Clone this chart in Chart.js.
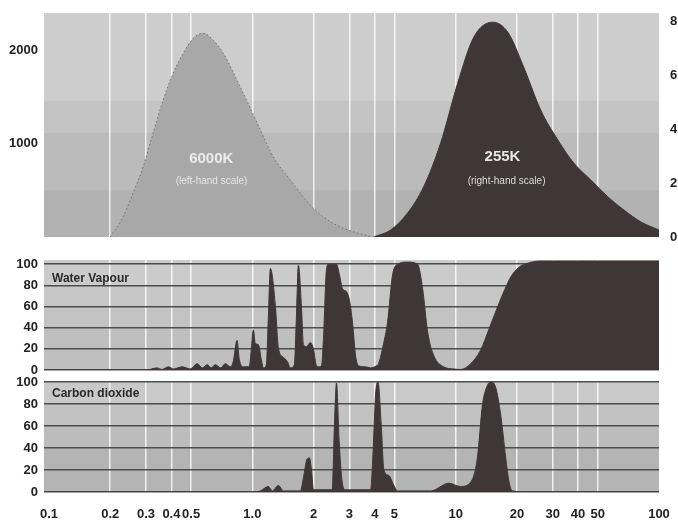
<!DOCTYPE html>
<html>
<head>
<meta charset="utf-8">
<script src="https://cdn.jsdelivr.net/npm/chart.js@4.4.1/dist/chart.umd.min.js"></script>
<style>
  html, body { margin: 0; padding: 0; background: #fff; }
  #wrap { position: relative; width: 678px; height: 522px; }
  canvas { position: absolute; left: 0; }
  #chartEmissao { top: 0; }
  #chartAgua { top: 250px; }
  #chartCO2 { top: 375px; }
</style>
</head>
<body>
<div id="wrap">
  <canvas id="chartEmissao" width="678" height="245"></canvas>
  <canvas id="chartAgua" width="678" height="125"></canvas>
  <canvas id="chartCO2" width="678" height="147"></canvas>
</div>
<script>
// eixo x (comprimento de onda, escala log)
const xTickValues = [0.1, 0.2, 0.3, 0.4, 0.5, 1, 2, 3, 4, 5, 10, 20, 30, 40, 50, 100];
const xTickLabels = ['0.1', '0.2', '0.3', '0.4', '0.5', '1.0', '2', '3', '4', '5', '10', '20', '30', '40', '50', '100'];
const leftTicks = [1000, 2000];
const rightTicks = [0, 2, 4, 6, 8];
const pctTicks = [0, 20, 40, 60, 80, 100];

// corpo negro 6000K (escala da esquerda)
const sunWl  = [0.2, 0.231, 0.259, 0.29, 0.325, 0.364, 0.408, 0.457, 0.512, 0.573, 0.643, 0.72, 0.873, 1.058, 1.269, 1.539, 1.866, 2.238, 2.714, 3.29, 3.945];
const sunVal = [0, 214, 471, 749, 1113, 1466, 1755, 1969, 2129, 2183, 2108, 1969, 1605, 1220, 856, 610, 375, 214, 107, 43, 0];

// corpo negro 255K (escala da direita)
const earthWl  = [3.95, 4.79, 5.8, 6.95, 8.43, 10.23, 12.27, 15.22, 18.04, 21.6, 26.2, 31.8, 38.1, 46.2, 56.1, 67.3, 81.5, 100];
const earthVal = [0, 0.26, 0.89, 1.86, 3.49, 5.72, 7.43, 7.99, 7.62, 6.32, 4.72, 3.61, 2.75, 2.12, 1.49, 1.0, 0.56, 0.26];

// absorção vapor d'água (%)
const h2oWl = [0.095, 0.3, 0.34, 0.36, 0.386, 0.41, 0.452, 0.495, 0.536, 0.567, 0.6, 0.627, 0.657, 0.7, 0.736, 0.78,
  0.806, 0.841, 0.863, 0.903, 0.966, 0.989, 1.011, 1.035, 1.071, 1.107, 1.133, 1.172, 1.199, 1.227, 1.298, 1.343,
  1.421, 1.487, 1.539, 1.61, 1.647, 1.685, 1.744, 1.783, 1.845, 1.931, 1.998, 2.067, 2.13, 2.188, 2.238, 2.315,
  2.368, 2.593, 2.683, 2.775, 2.905, 3.005, 3.109, 3.217, 3.329, 3.604, 3.814, 4.08, 4.176, 4.42, 4.624, 4.895,
  5.18, 5.8, 6.5, 6.877, 7.28, 7.79, 8.73, 9.79, 10.58, 11.86, 13.28, 14.54, 16.1, 17.43, 18.66, 20.43, 22.63, 26.23, 100];
const h2oVal = [0, 0, 2, 0.5, 3, 1, 3, 1, 6, 2, 5, 2, 5, 2, 6, 3,
  8, 28, 10, 3, 3, 20, 38, 25, 24, 10, 2, 5, 50, 96, 61, 21,
  12, 8, 2, 5, 50, 99, 60, 24, 22, 26, 20, 4, 3, 4, 30, 95,
  100, 100, 90, 77, 74, 66, 45, 14, 4, 3, 2, 4, 6, 25, 45, 90,
  100, 102, 100, 77, 36, 14, 3, 1, 0.5, 6, 19, 38, 60, 76, 88, 97, 101, 103, 103];

// absorção CO2 (%)
const co2Wl = [0.095, 1.05, 1.095, 1.199, 1.254, 1.343, 1.421, 1.724, 1.783, 1.86, 1.909, 1.953, 1.998, 2.47, 2.534,
  2.593, 2.674, 2.766, 2.872, 3.814, 3.933, 4.036, 4.152, 4.305, 4.436, 4.692, 4.967, 5.163, 7.53, 9.27, 10.58,
  11.86, 12.79, 13.54, 14.33, 14.87, 15.74, 16.66, 17.63, 18.31, 19.02, 22.9, 100];
const co2Val = [0, 0, 1, 5, 1, 6, 1, 1, 13, 30, 31, 20, 2, 2, 61,
  99, 46, 9, 2, 2, 40, 88, 100, 61, 20, 15, 6, 1, 1, 8, 5,
  9, 31, 79, 97, 100, 95, 70, 31, 9, 1, 0, 0];

const FONT = "'Liberation Sans', Arial, sans-serif";
const DARK = '#3f3737';
const tickFont = { family: FONT, size: 13, weight: 'bold' };

function pts(xs, ys) { return xs.map((x, i) => ({ x: x, y: ys[i] })); }
function fixW(w) { return s => { s.width = w; s.paddingTop = 0; s.paddingBottom = 0; }; }
function fixH(h) { return s => { s.height = h; s.paddingLeft = 0; s.paddingRight = 0; }; }

// fundo cinza em faixas
const bandsPlugin = {
  id: 'faixas',
  beforeDraw(chart, args, opts) {
    const { ctx, chartArea: a } = chart;
    const y = chart.scales[opts.axis];
    ctx.save();
    opts.bands.forEach(b => {
      const top = Math.max(a.top, y.getPixelForValue(b[1]));
      const bot = Math.min(a.bottom, y.getPixelForValue(b[0]));
      ctx.fillStyle = b[2];
      ctx.fillRect(a.left, top, a.right - a.left, bot - top);
    });
    ctx.restore();
  }
};

// textos dentro do gráfico
const textPlugin = {
  id: 'rotulos',
  afterDatasetsDraw(chart, args, opts) {
    const ctx = chart.ctx;
    ctx.save();
    opts.items.forEach(t => {
      ctx.font = t.font;
      ctx.fillStyle = t.color;
      ctx.textAlign = t.align || 'center';
      ctx.textBaseline = 'middle';
      ctx.fillText(t.text, chart.scales.x.getPixelForValue(t.x), chart.scales[t.axis].getPixelForValue(t.y));
    });
    ctx.restore();
  }
};

function xScale(showLabels) {
  return {
    type: 'logarithmic',
    min: 0.0945,
    max: 100,
    afterBuildTicks: s => { s.ticks = xTickValues.map(v => ({ value: v })); },
    afterFit: fixH(showLabels ? 30 : 0),
    border: { display: false },
    grid: {
      drawTicks: false,
      lineWidth: 1.5,
      color: c => (c.tick && (c.tick.value === 0.1 || c.tick.value === 100)) ? 'rgba(0,0,0,0)' : 'rgba(255,255,255,0.8)'
    },
    ticks: {
      display: showLabels,
      padding: 15,
      autoSkip: false,
      maxRotation: 0,
      font: tickFont,
      color: '#222',
      callback: (v, i) => xTickLabels[i]
    }
  };
}

function yScale(position, max, ticks, width, pad, showGrid) {
  return {
    position: position,
    min: 0,
    max: max,
    afterBuildTicks: s => { s.ticks = ticks.map(v => ({ value: v })); },
    afterFit: fixW(width),
    border: { display: false },
    grid: { display: showGrid, drawTicks: false, color: '#4d4d4d', lineWidth: 1.5 },
    ticks: { padding: pad, font: tickFont, color: '#222', callback: v => String(v) }
  };
}

function absDataset(xs, ys) {
  return {
    data: pts(xs, ys),
    fill: 'origin',
    backgroundColor: DARK,
    borderColor: DARK,
    borderWidth: 1,
    pointRadius: 0,
    cubicInterpolationMode: 'monotone'
  };
}

// emissão 6000K x 255K
new Chart(document.getElementById('chartEmissao'), {
  type: 'line',
  data: {
    datasets: [{
      data: pts(sunWl, sunVal),
      yAxisID: 'y',
      fill: 'origin',
      backgroundColor: '#a8a8a8',
      borderColor: 'rgba(85,85,85,0.75)',
      borderWidth: 1,
      borderDash: [1.5, 2.5],
      pointRadius: 0,
      cubicInterpolationMode: 'monotone'
    }, {
      data: pts(earthWl, earthVal),
      yAxisID: 'y2',
      fill: 'origin',
      backgroundColor: DARK,
      borderColor: DARK,
      borderWidth: 1,
      pointRadius: 0,
      cubicInterpolationMode: 'monotone'
    }]
  },
  options: {
    responsive: false,
    animation: false,
    layout: { autoPadding: false, padding: { top: 13, bottom: 8, left: 0, right: 0 } },
    plugins: {
      legend: { display: false },
      tooltip: { enabled: false },
      faixas: { axis: 'y', bands: [[1466, 2400, '#cdcdcd'], [1123, 1466, '#c4c4c4'], [503, 1123, '#bbbbbb'], [0, 503, '#b2b2b2']] },
      rotulos: { items: [
        { text: '6000K', x: 0.628, y: 835, axis: 'y', font: "bold 15px " + FONT, color: '#ececec' },
        { text: '(left-hand scale)', x: 0.63, y: 600, axis: 'y', font: "10px " + FONT, color: '#e6e6e6' },
        { text: '255K', x: 17.0, y: 2.97, axis: 'y2', font: "bold 15px " + FONT, color: '#e6e6e6' },
        { text: '(right-hand scale)', x: 17.8, y: 2.08, axis: 'y2', font: "10px " + FONT, color: '#dcdcdc' }
      ] }
    },
    scales: {
      x: xScale(false),
      y: yScale('left', 2400, leftTicks, 44, 6, false),
      y2: yScale('right', 8.33, rightTicks, 19, 11, false)
    }
  },
  plugins: [bandsPlugin, textPlugin]
});

// vapor d'água
new Chart(document.getElementById('chartAgua'), {
  type: 'line',
  data: { datasets: [absDataset(h2oWl, h2oVal)] },
  options: {
    responsive: false,
    animation: false,
    layout: { autoPadding: false, padding: { top: 10, bottom: 5, left: 0, right: 19 } },
    plugins: {
      legend: { display: false },
      tooltip: { enabled: false },
      faixas: { axis: 'y', bands: [[80, 104, '#cbcbcb'], [60, 80, '#c6c6c6'], [40, 60, '#c3c3c3'], [0, 40, '#bfbfbf']] },
      rotulos: { items: [
        { text: 'Water Vapour', x: 0.1035, y: 86, axis: 'y', align: 'left', font: "bold 12px " + FONT, color: '#2a2a2a' }
      ] }
    },
    scales: { x: xScale(false), y: yScale('left', 104, pctTicks, 44, 6, true) }
  },
  plugins: [bandsPlugin, textPlugin]
});

// dióxido de carbono
new Chart(document.getElementById('chartCO2'), {
  type: 'line',
  data: { datasets: [absDataset(co2Wl, co2Val)] },
  options: {
    responsive: false,
    animation: false,
    layout: { autoPadding: false, padding: { top: 7, bottom: 0, left: 0, right: 19 } },
    plugins: {
      legend: { display: false },
      tooltip: { enabled: false },
      faixas: { axis: 'y', bands: [[80, 100, '#c9c9c9'], [60, 80, '#c2c2c2'], [40, 60, '#bcbcbc'], [0, 40, '#b4b4b4']] },
      rotulos: { items: [
        { text: 'Carbon dioxide', x: 0.1035, y: 89, axis: 'y', align: 'left', font: "bold 12px " + FONT, color: '#2a2a2a' }
      ] }
    },
    scales: { x: xScale(true), y: yScale('left', 100, pctTicks, 44, 6, true) }
  },
  plugins: [bandsPlugin, textPlugin]
});
</script>
</body>
</html>
